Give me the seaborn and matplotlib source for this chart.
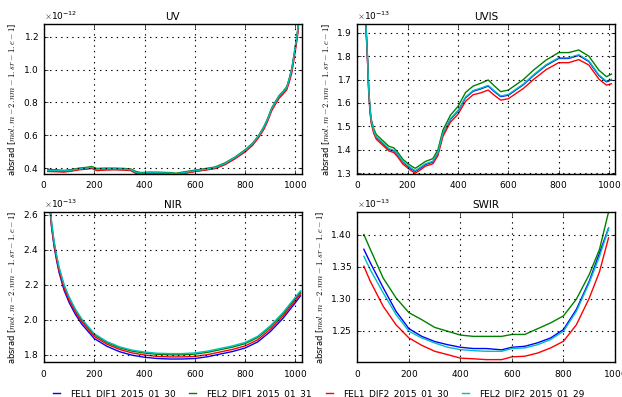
import matplotlib
matplotlib.use('Agg')
import matplotlib.pyplot as plt
import seaborn as sns

# ---------------- data ----------------
labels = ['FEL1_DIF1_2015_01_30', 'FEL2_DIF1_2015_01_31',
          'FEL1_DIF2_2015_01_30', 'FEL2_DIF2_2015_01_29']
colors = ['b', 'g', 'r', 'c']
titles = ['UV', 'UVIS', 'NIR', 'SWIR']
scales = [1e-12, 1e-13, 1e-13, 1e-13]

uv_x = [15, 50, 80, 110, 140, 170, 190, 210, 240, 280, 320, 345, 365, 385, 420, 460, 500, 525,
        560, 600, 640, 680, 720, 760, 800, 830, 855, 875, 890, 905, 920, 935, 950, 965, 975,
        985, 995, 1005, 1012]
uv_blue = [0.383, 0.383, 0.380, 0.385, 0.393, 0.398, 0.402, 0.390, 0.392, 0.393, 0.391, 0.388,
           0.372, 0.366, 0.369, 0.368, 0.367, 0.362, 0.371, 0.381, 0.390, 0.400, 0.425, 0.462,
           0.505, 0.546, 0.596, 0.647, 0.697, 0.757, 0.797, 0.834, 0.858, 0.886, 0.935, 0.993,
           1.088, 1.188, 1.270]
uv_green = [0.392, 0.390, 0.386, 0.392, 0.400, 0.405, 0.410, 0.398, 0.400, 0.400, 0.398, 0.395,
            0.380, 0.373, 0.376, 0.375, 0.373, 0.369, 0.378, 0.388, 0.397, 0.407, 0.432, 0.468,
            0.512, 0.553, 0.603, 0.655, 0.705, 0.765, 0.805, 0.842, 0.866, 0.895, 0.945, 1.005,
            1.100, 1.200, 1.280]
uv_red = [0.380, 0.378, 0.376, 0.382, 0.390, 0.394, 0.398, 0.385, 0.388, 0.390, 0.388, 0.385,
          0.368, 0.363, 0.366, 0.366, 0.365, 0.360, 0.369, 0.379, 0.388, 0.397, 0.421, 0.457,
          0.499, 0.540, 0.589, 0.638, 0.688, 0.748, 0.788, 0.825, 0.850, 0.876, 0.922, 0.978,
          1.070, 1.170, 1.250]
uv_cyan = [0.386, 0.386, 0.383, 0.388, 0.396, 0.400, 0.405, 0.393, 0.395, 0.396, 0.394, 0.391,
           0.375, 0.369, 0.372, 0.371, 0.370, 0.365, 0.374, 0.384, 0.393, 0.403, 0.428, 0.465,
           0.508, 0.550, 0.600, 0.651, 0.701, 0.761, 0.801, 0.838, 0.862, 0.890, 0.940, 0.999,
           1.094, 1.194, 1.275]

uvis_x = [33, 40, 45, 50, 55, 65, 75, 100, 125, 145, 160, 180, 200, 215, 230, 250, 270, 300, 320,
          340, 370, 400, 430, 460, 490, 520, 545, 570, 600, 660, 700, 750, 800, 840, 880, 920,
          960, 990, 1010]
uvis_blue = [1.950, 1.790, 1.650, 1.570, 1.520, 1.478, 1.452, 1.428, 1.402, 1.395, 1.378, 1.348,
             1.330, 1.318, 1.308, 1.322, 1.337, 1.348, 1.385, 1.468, 1.530, 1.565, 1.622, 1.650,
             1.660, 1.672, 1.648, 1.627, 1.633, 1.678, 1.717, 1.760, 1.790, 1.790, 1.803, 1.777,
             1.717, 1.690, 1.698]
uvis_green = [1.960, 1.800, 1.660, 1.580, 1.530, 1.490, 1.465, 1.440, 1.415, 1.408, 1.390, 1.360,
              1.342, 1.330, 1.321, 1.335, 1.350, 1.362, 1.400, 1.484, 1.548, 1.585, 1.645, 1.672,
              1.684, 1.698, 1.672, 1.648, 1.655, 1.700, 1.740, 1.783, 1.815, 1.815, 1.826, 1.800,
              1.740, 1.712, 1.723]
uvis_red = [1.940, 1.780, 1.640, 1.560, 1.512, 1.470, 1.445, 1.420, 1.395, 1.388, 1.370, 1.340,
            1.322, 1.310, 1.300, 1.314, 1.330, 1.340, 1.375, 1.457, 1.518, 1.552, 1.607, 1.635,
            1.643, 1.655, 1.632, 1.612, 1.618, 1.662, 1.700, 1.742, 1.772, 1.772, 1.785, 1.762,
            1.702, 1.676, 1.682]
uvis_cyan = [1.955, 1.795, 1.655, 1.574, 1.524, 1.481, 1.455, 1.431, 1.405, 1.398, 1.381, 1.351,
             1.333, 1.321, 1.311, 1.325, 1.340, 1.351, 1.388, 1.471, 1.533, 1.568, 1.625, 1.653,
             1.663, 1.675, 1.651, 1.630, 1.636, 1.681, 1.720, 1.763, 1.793, 1.793, 1.806, 1.780,
             1.720, 1.693, 1.701]

nir_x = [25, 30, 40, 50, 60, 80, 100, 125, 150, 200, 250, 300, 350, 400, 450, 500, 550, 600, 650,
         700, 750, 800, 850, 900, 950, 1000, 1020]
nir_blue = [2.610, 2.530, 2.420, 2.340, 2.270, 2.168, 2.098, 2.030, 1.975, 1.892, 1.848, 1.817,
            1.797, 1.785, 1.778, 1.775, 1.775, 1.778, 1.788, 1.803, 1.818, 1.838, 1.873, 1.932,
            2.007, 2.098, 2.136]
nir_green = [2.635, 2.555, 2.445, 2.364, 2.294, 2.194, 2.124, 2.054, 1.999, 1.914, 1.869, 1.839,
             1.820, 1.809, 1.802, 1.799, 1.799, 1.803, 1.813, 1.828, 1.843, 1.863, 1.898, 1.958,
             2.032, 2.121, 2.157]
nir_red = [2.620, 2.540, 2.430, 2.350, 2.280, 2.180, 2.110, 2.042, 1.988, 1.904, 1.860, 1.830,
           1.810, 1.798, 1.790, 1.787, 1.787, 1.790, 1.800, 1.815, 1.830, 1.850, 1.885, 1.945,
           2.020, 2.110, 2.148]
nir_cyan = [2.640, 2.560, 2.450, 2.370, 2.300, 2.200, 2.130, 2.060, 2.005, 1.920, 1.875, 1.845,
            1.826, 1.815, 1.808, 1.806, 1.806, 1.810, 1.820, 1.835, 1.850, 1.870, 1.905, 1.965,
            2.040, 2.130, 2.165]

swir_x = [25, 50, 100, 150, 200, 250, 300, 350, 400, 450, 500, 560, 600, 650, 700, 750, 800, 850,
          900, 940, 975]
swir_blue = [1.377, 1.356, 1.317, 1.280, 1.253, 1.241, 1.233, 1.228, 1.224, 1.222, 1.222, 1.220,
             1.224, 1.2255, 1.231, 1.2385, 1.2516, 1.283, 1.327, 1.371, 1.410]
swir_green = [1.400, 1.377, 1.332, 1.301, 1.278, 1.267, 1.255, 1.249, 1.243, 1.241, 1.241, 1.241,
              1.244, 1.244, 1.253, 1.262, 1.273, 1.299, 1.3375, 1.377, 1.435]
swir_red = [1.3505, 1.327, 1.288, 1.259, 1.2385, 1.227, 1.2177, 1.2125, 1.207, 1.206, 1.2047,
            1.2047, 1.209, 1.210, 1.215, 1.2229, 1.2333, 1.259, 1.3005, 1.342, 1.3948]
swir_cyan = [1.366, 1.345, 1.309, 1.275, 1.249, 1.2385, 1.2307, 1.224, 1.2203, 1.2187, 1.2177,
             1.2177, 1.222, 1.223, 1.228, 1.236, 1.249, 1.280, 1.3245, 1.366, 1.409]

panels = [
    (uv_x, [uv_blue, uv_green, uv_red, uv_cyan]),
    (uvis_x, [uvis_blue, uvis_green, uvis_red, uvis_cyan]),
    (nir_x, [nir_blue, nir_green, nir_red, nir_cyan]),
    (swir_x, [swir_blue, swir_green, swir_red, swir_cyan]),
]
xlims = [(0, 1024), (0, 1024), (0, 1024), (0, 1000)]
ylims = [(0.365, 1.277), (1.297, 1.937), (1.758, 2.615), (1.201, 1.435)]

# ---------------- style ----------------
plt.style.use('classic')
plt.rcParams.update({
    'figure.facecolor': 'white',
    'savefig.facecolor': 'white',
    'xtick.labelsize': 6.5,
    'ytick.labelsize': 6.5,
    'axes.titlesize': 7.5,
    'axes.labelsize': 6,
    'lines.linewidth': 1.0,
    'font.family': ['DejaVu Sans'],
    'mathtext.fontset': 'cm',
    'axes.formatter.use_mathtext': True,
})

fig, axes = plt.subplots(2, 2, figsize=(6.22, 3.97), dpi=100)
fig.subplots_adjust(left=0.0707, right=0.9887, top=0.9395, bottom=0.0882,
                    hspace=0.255, wspace=0.217)

ylabel = r'absrad [$mol.m-2.nm-1.sr-1.e-1$]'
for ax, title, scale, (xs, series), xl, yl in zip(axes.flat, titles, scales, panels, xlims, ylims):
    for ys, col, lab in zip(series, colors, labels):
        sns.lineplot(x=xs, y=[v * scale for v in ys], ax=ax, color=col, linewidth=1.0,
                     label=lab, estimator=None, legend=False)
    ax.set_xlim(*xl)
    ax.set_ylim(yl[0] * scale, yl[1] * scale)
    ax.set_xticks([0, 200, 400, 600, 800, 1000])
    ax.set_title(title, pad=3)
    ax.set_ylabel(ylabel, fontsize=6, labelpad=3)
    ax.set_xlabel('')
    ax.grid(True, linestyle=':', color='k', linewidth=0.8)
    ax.yaxis.get_offset_text().set_fontsize(6.5)
    ax.tick_params(which='both', direction='in', length=3)

handles = axes[0, 0].get_lines()[:4]
fig.legend(handles, labels, loc='center', bbox_to_anchor=(0.51, 0.009), ncol=4,
           frameon=False, fontsize=6.5, handlelength=1.4, columnspacing=1.2,
           handletextpad=0.8)

fig.savefig('out.png', dpi=100)
